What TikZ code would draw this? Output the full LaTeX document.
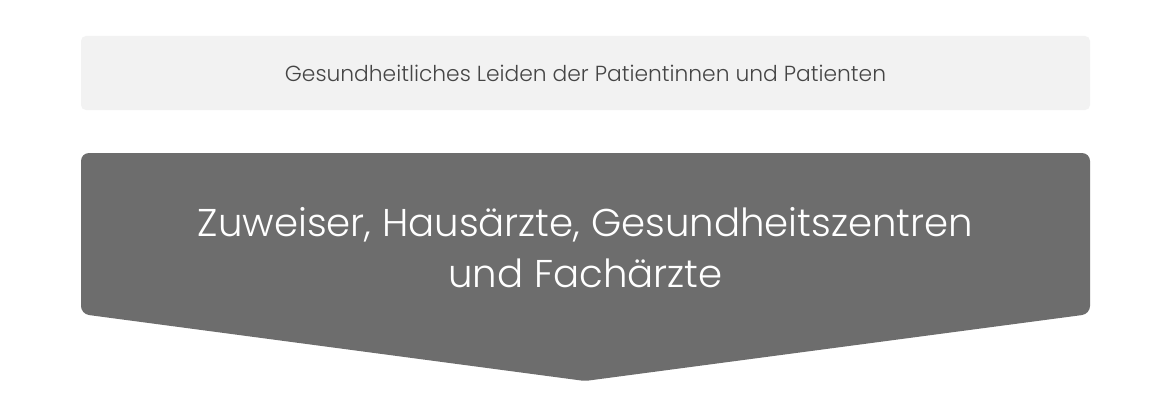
\documentclass[tikz,border=0pt]{standalone}
\usepackage{fontspec}
\setmainfont{Poppins}[UprightFont=*-Light]
\definecolor{boxlight}{HTML}{F2F2F2}
\definecolor{boxdark}{HTML}{6D6D6D}
\definecolor{textdark}{HTML}{454545}
\begin{document}
\begin{tikzpicture}[x=1pt,y=-1pt,
  topbox/.style={fill=boxlight,rounded corners=5pt,minimum width=1009pt,minimum height=74pt,inner sep=0pt,
    text=textdark,font=\fontsize{21.8}{26}\selectfont},
  bigtext/.style={text=white,align=center,font=\fontsize{38.7}{51}\selectfont}]
\useasboundingbox[fill=white] (0,0) rectangle (1170,420);
\node[topbox] (top) at (585.5,73) {Gesundheitliches Leiden der Patientinnen und Patienten};
\fill[boxdark,rounded corners=8pt] (81,153) -- (1090,153) -- (1090,314) [rounded corners=2pt] -- (585,381) [rounded corners=8pt] -- (81,314) -- cycle;
\node[bigtext] (main) at (585.5,248) {Zuweiser, Hausärzte, Gesundheitszentren\\und Fachärzte};
\end{tikzpicture}
\end{document}
